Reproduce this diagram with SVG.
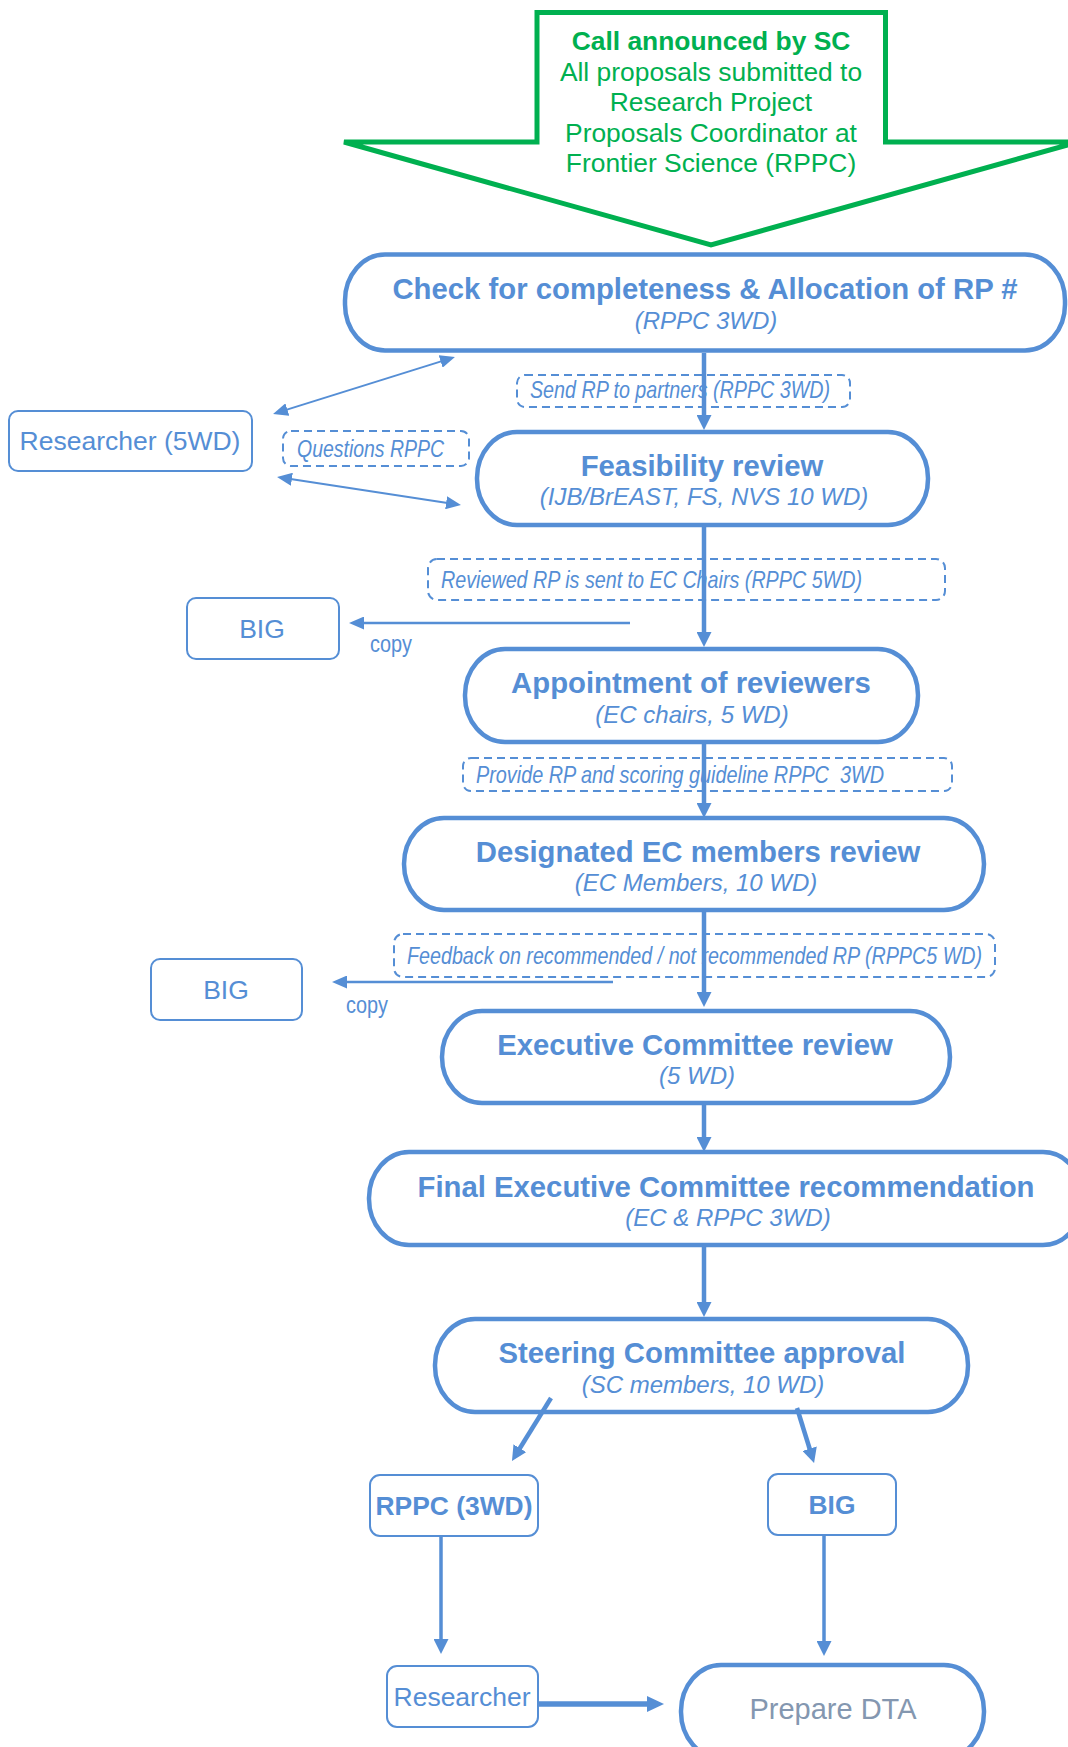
<svg xmlns="http://www.w3.org/2000/svg" width="1068" height="1747" viewBox="0 0 1068 1747">
<style>
  text { font-family: "Liberation Sans", Arial, sans-serif; }
  .g { fill: #00B050; font-size: 26.4px; text-anchor: middle; }
  .gb { font-weight: bold; }
  .term { fill: #FFFFFF; stroke: #558ED5; stroke-width: 4.5; }
  .thin { fill: #FFFFFF; stroke: #558ED5; stroke-width: 2; }
  .dash { fill: none; stroke: #558ED5; stroke-width: 2; stroke-dasharray: 8 5; }
  .t { fill: #558ED5; font-size: 29.3px; font-weight: bold; text-anchor: middle; }
  .s { fill: #558ED5; font-size: 24px; font-style: italic; text-anchor: middle; }
  .r { fill: #558ED5; font-size: 26.5px; text-anchor: middle; }
  .rb { fill: #558ED5; font-size: 26.4px; font-weight: bold; text-anchor: middle; }
  .n { fill: #558ED5; font-family: "Liberation Sans Narrow", "Arial Narrow", "Liberation Sans", sans-serif; font-size: 24px; font-style: italic; }
  .cp { fill: #558ED5; font-family: "Liberation Sans Narrow", "Arial Narrow", "Liberation Sans", sans-serif; font-size: 24px; }
  .gray { fill: #8497B0; font-size: 29px; text-anchor: middle; }
  .c { fill: none; stroke: #558ED5; }
  .cm { stroke-width: 4.5; marker-end: url(#mMain); }
  .ct { stroke-width: 2.5; marker-end: url(#mThin); }
  .cd { stroke-width: 2; marker-start: url(#mThin); marker-end: url(#mThin); }
  .cb { stroke-width: 3.5; marker-end: url(#mMain); }
  .ck { stroke-width: 5.5; marker-end: url(#mThick); }
</style>
<defs>
  <marker id="mMain" markerUnits="userSpaceOnUse" viewBox="0 0 15 15" markerWidth="15" markerHeight="15" refX="3" refY="7.5" orient="auto-start-reverse">
    <path d="M0,0 L15,7.5 L0,15 z" fill="#558ED5"/>
  </marker>
  <marker id="mThin" markerUnits="userSpaceOnUse" viewBox="0 0 15 13" markerWidth="15" markerHeight="13" refX="3" refY="6.5" orient="auto-start-reverse">
    <path d="M0,0 L15,6.5 L0,13 z" fill="#558ED5"/>
  </marker>
  <marker id="mThick" markerUnits="userSpaceOnUse" viewBox="0 0 17 16" markerWidth="17" markerHeight="16" refX="3" refY="8" orient="auto">
    <path d="M0,0 L17,8 L0,16 z" fill="#558ED5"/>
  </marker>
</defs>
<rect x="0" y="0" width="1068" height="1747" fill="#FFFFFF"/>

<g id="call-announced">
  <polygon points="537,12.5 885.5,12.5 885.5,142 1078,142 711,245 344,142 537,142" fill="#FFFFFF" stroke="#00B050" stroke-width="5" stroke-linejoin="miter"/>
  <text class="g gb" x="711" y="50">Call announced by SC</text>
  <text class="g" x="711" y="80.5">All proposals submitted to</text>
  <text class="g" x="711" y="111">Research Project</text>
  <text class="g" x="711" y="141.5">Proposals Coordinator at</text>
  <text class="g" x="711" y="172">Frontier Science (RPPC)</text>
</g>

<g id="labels">
  <g id="label-send">
    <rect class="dash" x="517" y="375" width="333" height="32" rx="8"/>
    <text class="n" x="530" y="398" textLength="300" lengthAdjust="spacingAndGlyphs">Send RP to partners (RPPC 3WD)</text>
  </g>
  <g id="label-questions">
    <rect class="dash" x="283" y="431" width="186" height="35" rx="8"/>
    <text class="n" x="297" y="457" textLength="147" lengthAdjust="spacingAndGlyphs">Questions RPPC</text>
  </g>
  <g id="label-reviewed">
    <rect class="dash" x="428" y="559" width="517" height="41" rx="9"/>
    <text class="n" x="441" y="588" textLength="421" lengthAdjust="spacingAndGlyphs">Reviewed RP is sent to EC Chairs (RPPC 5WD)</text>
  </g>
  <g id="label-provide">
    <rect class="dash" x="463" y="758" width="489" height="33" rx="8"/>
    <text class="n" x="476" y="783" textLength="408" lengthAdjust="spacingAndGlyphs" xml:space="preserve" style="white-space: pre">Provide RP and scoring guideline RPPC  3WD</text>
  </g>
  <g id="label-feedback">
    <rect class="dash" x="394" y="934" width="601" height="43" rx="9"/>
    <text class="n" x="407" y="964" textLength="575" lengthAdjust="spacingAndGlyphs">Feedback on recommended / not recommended RP (RPPC5 WD)</text>
  </g>
  <text class="cp" x="370" y="652" textLength="42" lengthAdjust="spacingAndGlyphs">copy</text>
  <text class="cp" x="346" y="1013" textLength="42" lengthAdjust="spacingAndGlyphs">copy</text>
</g>

<g id="check-completeness">
  <rect class="term" x="345" y="254.5" width="720" height="96" rx="40" ry="46"/>
  <text class="t" x="705" y="299">Check for completeness &amp; Allocation of RP #</text>
  <text class="s" x="706" y="329">(RPPC 3WD)</text>
</g>
<g id="researcher-5wd">
  <rect class="thin" x="9" y="411" width="243" height="60" rx="9"/>
  <text class="r" x="130" y="450">Researcher (5WD)</text>
</g>
<g id="feasibility-review">
  <rect class="term" x="477" y="432" width="451" height="93" rx="40" ry="46"/>
  <text class="t" x="702" y="476">Feasibility review</text>
  <text class="s" x="704" y="505">(IJB/BrEAST, FS, NVS 10 WD)</text>
</g>
<g id="big-1">
  <rect class="thin" x="187" y="598" width="152" height="61" rx="9"/>
  <text class="r" x="262" y="638">BIG</text>
</g>
<g id="appointment-reviewers">
  <rect class="term" x="465" y="649" width="453" height="93" rx="40" ry="46"/>
  <text class="t" x="691" y="693">Appointment of reviewers</text>
  <text class="s" x="692" y="723">(EC chairs, 5 WD)</text>
</g>
<g id="designated-ec-review">
  <rect class="term" x="404" y="818" width="580" height="92" rx="40" ry="46"/>
  <text class="t" x="698" y="862">Designated EC members review</text>
  <text class="s" x="696" y="891">(EC Members, 10 WD)</text>
</g>
<g id="big-2">
  <rect class="thin" x="151" y="959" width="151" height="61" rx="9"/>
  <text class="r" x="226" y="999">BIG</text>
</g>
<g id="executive-committee-review">
  <rect class="term" x="442" y="1011" width="508" height="92" rx="40" ry="46"/>
  <text class="t" x="695" y="1055">Executive Committee review</text>
  <text class="s" x="697" y="1084">(5 WD)</text>
</g>
<g id="final-ec-recommendation">
  <rect class="term" x="369" y="1152" width="714" height="93" rx="40" ry="46"/>
  <text class="t" x="726" y="1197">Final Executive Committee recommendation</text>
  <text class="s" x="728" y="1226">(EC &amp; RPPC 3WD)</text>
</g>
<g id="steering-committee-approval">
  <rect class="term" x="435" y="1319" width="533" height="93" rx="40" ry="46"/>
  <text class="t" x="702" y="1363">Steering Committee approval</text>
  <text class="s" x="703" y="1393">(SC members, 10 WD)</text>
</g>
<g id="rppc-3wd">
  <rect class="thin" x="370" y="1475" width="168" height="61" rx="10"/>
  <text class="rb" x="454" y="1515">RPPC (3WD)</text>
</g>
<g id="big-3">
  <rect class="thin" x="768" y="1474" width="128" height="61" rx="10"/>
  <text class="rb" x="832" y="1514">BIG</text>
</g>
<g id="researcher">
  <rect class="thin" x="387" y="1666" width="151" height="61" rx="10"/>
  <text class="r" x="462" y="1706">Researcher</text>
</g>
<g id="prepare-dta">
  <rect class="term" x="681" y="1665" width="303" height="93" rx="40" ry="46"/>
  <text class="gray" x="833" y="1719">Prepare DTA</text>
</g>

<g id="connectors">
  <line class="c cm" x1="704" y1="353" x2="704" y2="418"/>
  <line class="c cm" x1="704" y1="527" x2="704" y2="635"/>
  <line class="c cm" x1="704" y1="744" x2="704" y2="806"/>
  <line class="c cm" x1="704" y1="912" x2="704" y2="995"/>
  <line class="c cm" x1="704" y1="1105" x2="704" y2="1140"/>
  <line class="c cm" x1="704" y1="1247" x2="704" y2="1305"/>
  <line class="c ct" x1="630" y1="623" x2="361" y2="623"/>
  <line class="c ct" x1="613" y1="982" x2="344" y2="982"/>
  <line class="c cd" x1="284.5" y1="410.4" x2="443.5" y2="360.6"/>
  <line class="c cd" x1="288.9" y1="478.8" x2="449.1" y2="503.2"/>
  <line class="c cm" x1="551" y1="1398" x2="518.3" y2="1450.8"/>
  <line class="c cm" x1="797" y1="1408" x2="810.5" y2="1451.5"/>
  <line class="c cb" x1="441" y1="1536" x2="441" y2="1642"/>
  <line class="c cb" x1="824" y1="1535" x2="824" y2="1644"/>
  <line class="c ck" x1="538" y1="1704" x2="650" y2="1704"/>
</g>
</svg>
